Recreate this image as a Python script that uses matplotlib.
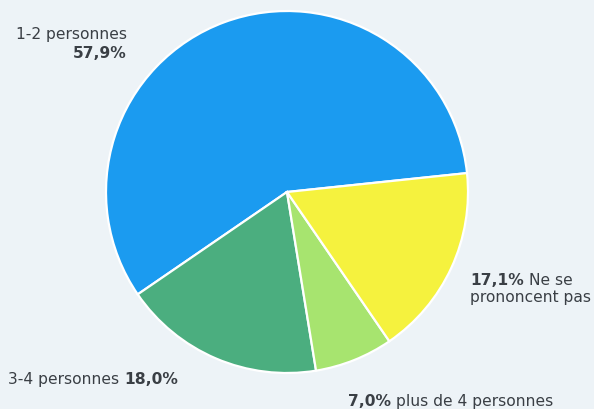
import matplotlib
matplotlib.use("Agg")
import matplotlib.pyplot as plt

# Household size shares (%)
labels = ["1-2 personnes", "3-4 personnes", "plus de 4 personnes", "Ne se prononcent pas"]
values = [57.9, 18.0, 7.0, 17.1]
value_text = ["57,9%", "18,0%", "7,0%", "17,1%"]
colors = ["#1b9bf0", "#4bae7f", "#a7e46f", "#f5f23e"]

W, H = 594, 409
bg = "#edf3f7"
plt.rcParams["font.family"] = ["DejaVu Sans"]

fig = plt.figure(figsize=(W / 100, H / 100), dpi=100, facecolor=bg)
ax = fig.add_axes([0, 0, 1, 1], facecolor=bg)

ax.pie(values, colors=colors, startangle=6, counterclock=True,
       center=(287, H - 192), radius=181, frame=True,
       wedgeprops=dict(edgecolor="white", linewidth=1.6))
ax.set_xlim(0, W)
ax.set_ylim(0, H)
ax.set_aspect("equal")
ax.axis("off")

tc = "#3a3f45"
fs = 11.2


def y(py):
    return H - py


fig.canvas.draw()
r = fig.canvas.get_renderer()


def line(x, py, parts, gap=5):
    """Draw a line of (text, bold) parts left to right starting at x."""
    t = ax.text(x, y(py), parts[0][0], fontsize=fs, color=tc,
                fontweight="bold" if parts[0][1] else "normal", va="baseline")
    for txt, bold in parts[1:]:
        bb = t.get_window_extent(renderer=r)
        t = ax.text(bb.x1 + gap, H - py, txt, fontsize=fs, color=tc,
                    fontweight="bold" if bold else "normal", va="baseline",
                    transform=None)


ax.text(127, y(39), labels[0], fontsize=fs, color=tc, ha="right", va="baseline")
ax.text(127, y(58), value_text[0], fontsize=fs, color=tc, ha="right", va="baseline",
        fontweight="bold")

line(470, 285, [(value_text[3], True), ("Ne se", False)])
ax.text(470, y(302), "prononcent pas", fontsize=fs, color=tc, va="baseline")

line(8, 384, [(labels[1], False), (value_text[1], True)])
line(348, 406, [(value_text[2], True), (labels[2], False)])

fig.savefig("out.png", dpi=100, facecolor=bg)
